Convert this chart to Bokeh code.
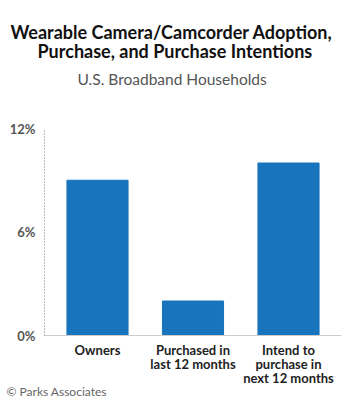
from bokeh.plotting import figure
from bokeh.models import Range1d, FixedTicker, Title
from bokeh.embed import file_html
from bokeh.resources import INLINE

# Data
categories = ["Owners", "Purchased in\nlast 12 months", "Intend to\npurchase in\nnext 12 months"]
values = [9, 2, 10]
y_ticks = [0, 6, 12]
y_tick_labels = ["0%", "6%", "12%"]

xs = list(range(len(categories)))

p = figure(width=350, height=400, output_backend="svg", toolbar_location=None,
           x_range=Range1d(-0.555, 2.555), y_range=Range1d(0, 12),
           min_border_left=44, min_border_right=9, min_border_top=128, min_border_bottom=65)
p.outline_line_color = None
p.background_fill_color = "white"
p.border_fill_color = "white"
p.xgrid.visible = False
p.ygrid.visible = False

p.vbar(x=xs, top=values, width=0.64, bottom=0, color="#1874bd")

# Y axis
p.yaxis.ticker = FixedTicker(ticks=y_ticks)
p.yaxis.major_label_overrides = {t: l for t, l in zip(y_ticks, y_tick_labels)}
p.yaxis.axis_line_color = "#777777"
p.yaxis.axis_line_dash = "1 2"
p.yaxis.axis_line_width = 1
p.yaxis.major_tick_line_color = None
p.yaxis.minor_tick_line_color = None
p.yaxis.major_label_text_font = "Lato"
p.yaxis.major_label_text_font_style = "bold"
p.yaxis.major_label_text_font_size = "13px"
p.yaxis.major_label_text_color = "#555555"
p.yaxis.major_label_standoff = 3

# X axis
p.xaxis.ticker = FixedTicker(ticks=xs)
p.xaxis.major_label_overrides = {x: c for x, c in zip(xs, categories)}
p.xaxis.axis_line_color = "#cccccc"
p.xaxis.major_tick_line_color = None
p.xaxis.minor_tick_line_color = None
p.xaxis.major_label_text_font = "Lato"
p.xaxis.major_label_text_font_style = "bold"
p.xaxis.major_label_text_font_size = "13px"
p.xaxis.major_label_text_line_height = 0.9
p.xaxis.major_label_text_color = "#222222"
p.xaxis.major_label_standoff = 0

# Titles: added closest-first, left aligned relative to frame left (x=44)
p.add_layout(Title(text=" ", text_font_size="1px", standoff=32), "above")  # spacer
p.add_layout(Title(text="U.S. Broadband Households", align="left", offset=77 - 44,
                   text_font="Lato", text_font_size="15.5px", text_font_style="normal",
                   text_color="#555555", standoff=12), "above")
p.add_layout(Title(text="Purchase, and Purchase Intentions", align="left", offset=37 - 44,
                   text_font="Lato", text_font_size="18px", text_font_style="bold",
                   text_color="#111111", standoff=0), "above")
p.add_layout(Title(text="Wearable Camera/Camcorder Adoption,", align="left", offset=10 - 44,
                   text_font="Lato", text_font_size="18px", text_font_style="bold",
                   text_color="#111111", standoff=-10), "above")
p.add_layout(Title(text="\u00a9 Parks Associates", align="left", offset=-38,
                   text_font="Lato", text_font_size="12px", text_font_style="normal",
                   text_color="#666666", standoff=-18), "below")

open("out.html", "w").write(file_html(p, INLINE))
